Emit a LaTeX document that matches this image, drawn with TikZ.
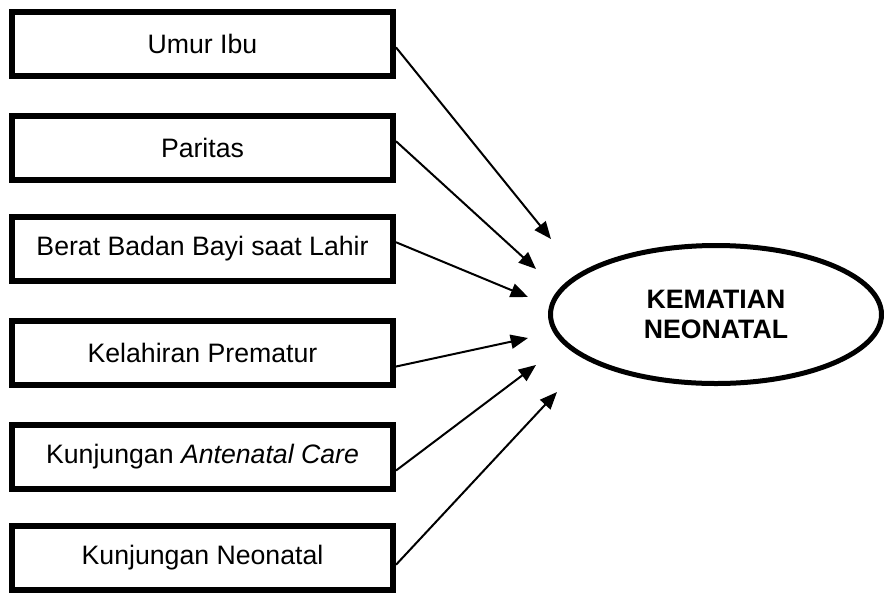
\documentclass[tikz,border=0pt]{standalone}
\usepackage{fontspec}
\setmainfont{Liberation Sans}
\usetikzlibrary{arrows.meta,shapes.geometric}

\begin{document}
\begin{tikzpicture}[x=0.75pt,y=-0.75pt]
            \useasboundingbox (0,0) rectangle (884,593);
            \begin{scope}[every node/.style={rectangle,draw,line width=4.5pt,minimum width=285.75pt,minimum height=48pt,inner sep=0pt,font=\fontsize{20}{22.5}\selectfont}]
                \node (A) at (202.5,44) {Umur Ibu};
                \node (B) at (202.5,148) {Paritas};
                \node (C) at (202.5,249) {Berat Badan Bayi saat Lahir};
                \node (D) at (202.5,353) {Kelahiran Prematur};
                \node (E) at (202.5,457) {Kunjungan \textit{Antenatal Care}};
                \node (F) at (202.5,558) {Kunjungan Neonatal};
            \end{scope}

            \node (K) [ellipse,draw,line width=3.75pt,minimum width=248.25pt,minimum height=103.5pt,inner sep=0pt,align=center,font=\fontsize{20}{22.5}\selectfont\bfseries] at (716,314.5) {KEMATIAN\\NEONATAL};

            \coordinate (tA) at (551,239);
            \coordinate (tB) at (536,269);
            \coordinate (tC) at (528,297);
            \coordinate (tD) at (528,338);
            \coordinate (tE) at (536,365);
            \coordinate (tF) at (557,392);

            \begin{scope}[line width=1.5pt,-{Triangle[length=13pt,width=10.5pt]}]
                \path (A.-1) edge (tA);
                \path (B.2) edge (tB);
                \path (C.2) edge (tC);
                \path (D.-4) edge (tD);
                \path (E.-4) edge (tE);
                \path (F.-2.5) edge (tF);
            \end{scope}
            \end{tikzpicture}
\end{document}
